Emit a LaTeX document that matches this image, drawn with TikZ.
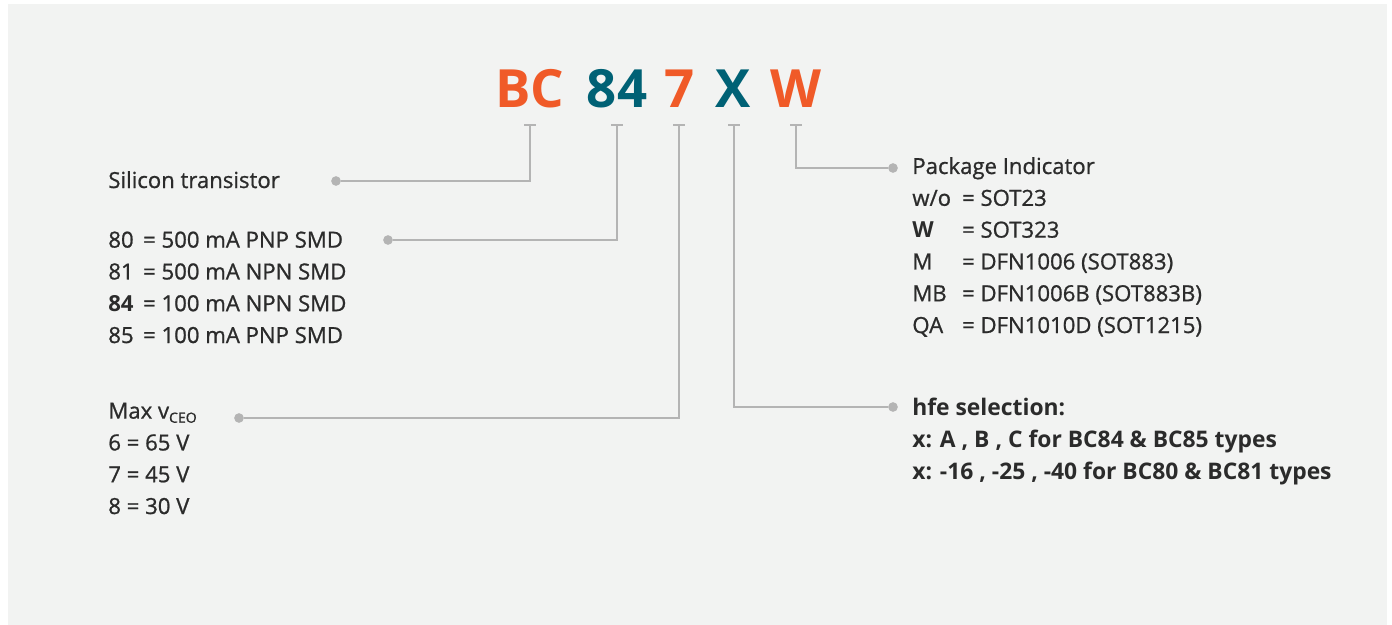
\documentclass[tikz,border=0pt]{standalone}
\usepackage{fontspec}
\setmainfont{Open Sans}[UprightFeatures={FakeBold=0.9}]
\usepackage{tikz}
\usetikzlibrary{calc,positioning}

\definecolor{panel}{HTML}{F2F3F2}
\definecolor{codeorange}{HTML}{F05A28}
\definecolor{codeteal}{HTML}{006175}
\definecolor{wire}{HTML}{B4B4B4}
\definecolor{ink}{HTML}{2B2B2B}

\tikzset{
    code/.style={font=\bfseries\fontsize{30}{30}\selectfont, inner sep=0pt},
    label/.style={anchor=base west, align=left, inner sep=0pt, text=ink,
        font=\fontsize{12.6}{18.1}\selectfont},
    wire/.style={draw=wire, line width=1.1pt},
    tick/.style={draw=wire, line width=1.1pt},
    dot/.style={circle, fill=wire, inner sep=0pt, minimum size=5.5pt},
}

\begin{document}
\begin{tikzpicture}[x=0.02cm, y=-0.02cm]
    % Rahmen
    \useasboundingbox (0,0) rectangle (1392,625);
    \fill[white] (0,0) rectangle (1392,625);
    \fill[panel] (8,4) rectangle (1387,625);

    % Typenbezeichnung
    \node[code, text=codeorange] (bc) at (530,89) {BC};
    \node[code, text=codeteal]   (n84) at (617,89) {84};
    \node[code, text=codeorange] (n7) at (680,89) {7};
    \node[code, text=codeteal]   (nx) at (733,89) {X};
    \node[code, text=codeorange] (nw) at (796,89) {W};

    % Markierungen unter den Zeichen
    \foreach \c/\x in {bc/530, n84/617, n7/679, nx/734, nw/796} {
        \coordinate (t\c) at (\x,125);
        \draw[tick] ($(t\c)+(-6,0)$) -- ($(t\c)+(6,0)$);
    }

    % Punkte
    \node[dot] (dbc) at (336,181) {};
    \node[dot] (d84) at (388,240) {};
    \node[dot] (d7)  at (239,418) {};
    \node[dot] (dx)  at (893,407) {};
    \node[dot] (dw)  at (893,168) {};

    % Verbindungen
    \draw[wire] (tbc) |- (dbc);
    \draw[wire] (tn84) |- (d84);
    \draw[wire] (tn7) |- (d7);
    \draw[wire] (tnx) |- (dx);
    \draw[wire] (tnw) |- (dw);

    % Texte links (Anker = Grundlinie der letzten Zeile)
    \node[label] (silicon) at (108,188) {Silicon transistor};
    \node[label] (current) at (108,343) {%
        \makebox[19.8pt][l]{80}= 500 mA PNP SMD\\
        \makebox[19.8pt][l]{81}= 500 mA NPN SMD\\
        \makebox[19.8pt][l]{\bfseries 84}= 100 mA NPN SMD\\
        \makebox[19.8pt][l]{85}= 100 mA PNP SMD};
    \node[label] (vceo) at (108,514) {%
        Max v\raisebox{-0.35ex}{\fontsize{8}{8}\selectfont CEO}\\
        6 = 65 V\\
        7 = 45 V\\
        8 = 30 V};

    % Texte rechts
    \node[label] (package) at (912,333) {%
        Package Indicator\\
        \makebox[28.3pt][l]{w/o}= SOT23\\
        \makebox[28.3pt][l]{\bfseries W}= SOT323\\
        \makebox[28.3pt][l]{M}= DFN1006 (SOT883)\\
        \makebox[28.3pt][l]{MB}= DFN1006B (SOT883B)\\
        \makebox[28.3pt][l]{QA}= DFN1010D (SOT1215)};
    \node[label, font=\bfseries\fontsize{13}{18.1}\selectfont] (hfe) at (912,479) {%
        hfe selection:\\
        x: A , B , C for BC84 \& BC85 types\\
        x: -16 , -25 , -40 for BC80 \& BC81 types};
\end{tikzpicture}
\end{document}
